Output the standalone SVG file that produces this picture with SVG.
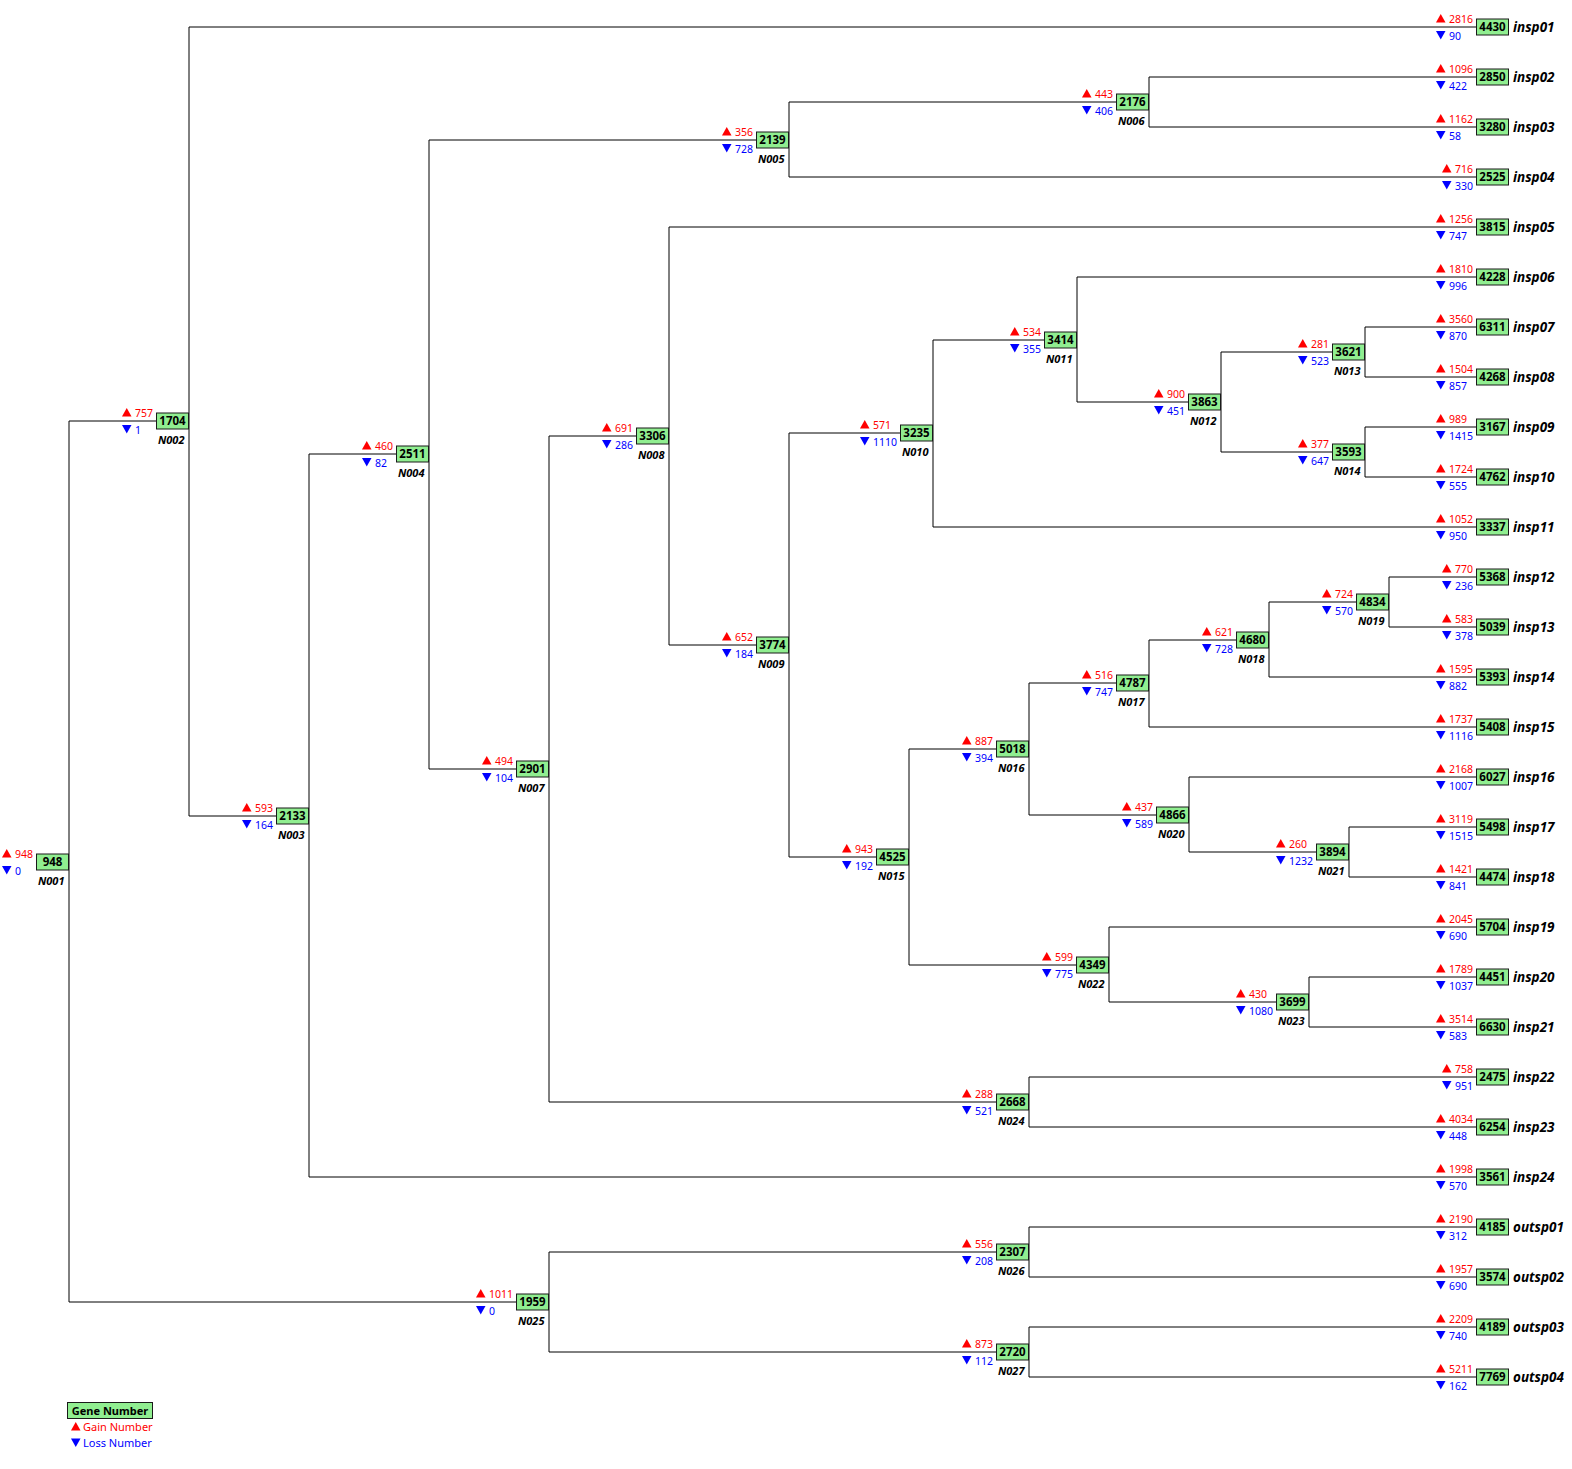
<svg xmlns="http://www.w3.org/2000/svg" xmlns:xlink="http://www.w3.org/1999/xlink" width="1572" height="1469" viewBox="0 0 1572 1469">
<style>
.ln{stroke:#000;stroke-width:1;fill:none}
.bx{fill:#90ee90;stroke:#1a1a1a;stroke-width:1}
text{font-family:"Noto Sans","Open Sans","DejaVu Sans",sans-serif}
.gn{font-size:11.5px;font-weight:bold;text-anchor:middle;fill:#000}
.g{font-size:10.5px;fill:#ff0000}
.l{font-size:10.5px;fill:#0000ff}
.nm{font-size:11px;font-weight:bold;font-style:italic;text-anchor:end;fill:#000}
.lf{font-size:13.5px;font-weight:bold;font-style:italic;fill:#000}
.lg{font-size:11px}
</style>
<defs>
<polygon id="up" points="0,0 9.5,0 4.75,-8.5" fill="#ff0000"/>
<polygon id="dn" points="0,-8.5 9.5,-8.5 4.75,0" fill="#0000ff"/>
</defs>
<rect width="1572" height="1469" fill="#fff"/>
<g id="tree" transform="translate(0,1)">
<g id="connectors" class="ln">
<path d="M69,420V1301M69,420H156M69,1301H516"/>
<path d="M189,26V815M189,26H1476M189,815H276"/>
<path d="M309,453V1176M309,453H396M309,1176H1476"/>
<path d="M429,139V768M429,139H756M429,768H516"/>
<path d="M789,101V176M789,101H1116M789,176H1476"/>
<path d="M1149,76V126M1149,76H1476M1149,126H1476"/>
<path d="M549,435V1101M549,435H636M549,1101H996"/>
<path d="M669,226V644M669,226H1476M669,644H756"/>
<path d="M789,432V856M789,432H900M789,856H876"/>
<path d="M933,339V526M933,339H1044M933,526H1476"/>
<path d="M1077,276V401M1077,276H1476M1077,401H1188"/>
<path d="M1221,351V451M1221,351H1332M1221,451H1332"/>
<path d="M1365,326V376M1365,326H1476M1365,376H1476"/>
<path d="M1365,426V476M1365,426H1476M1365,476H1476"/>
<path d="M909,748V964M909,748H996M909,964H1076"/>
<path d="M1029,682V814M1029,682H1116M1029,814H1156"/>
<path d="M1149,639V726M1149,639H1236M1149,726H1476"/>
<path d="M1269,601V676M1269,601H1356M1269,676H1476"/>
<path d="M1389,576V626M1389,576H1476M1389,626H1476"/>
<path d="M1189,776V851M1189,776H1476M1189,851H1316"/>
<path d="M1349,826V876M1349,826H1476M1349,876H1476"/>
<path d="M1109,926V1001M1109,926H1476M1109,1001H1276"/>
<path d="M1309,976V1026M1309,976H1476M1309,1026H1476"/>
<path d="M1029,1076V1126M1029,1076H1476M1029,1126H1476"/>
<path d="M549,1251V1351M549,1251H996M549,1351H996"/>
<path d="M1029,1226V1276M1029,1226H1476M1029,1276H1476"/>
<path d="M1029,1326V1376M1029,1326H1476M1029,1376H1476"/>
</g>
<g id="N001" transform="translate(69,861)"><rect class="bx" x="-32.5" y="-8" width="32" height="16"/><text class="gn" x="-16.5" y="4">948</text><text class="nm" x="-4.5" y="22.5">N001</text><use href="#up" x="-67" y="-4.5"/><text class="g" x="-54" y="-4.5">948</text><use href="#dn" x="-67" y="12.5"/><text class="l" x="-54" y="12.5">0</text></g>
<g id="N002" transform="translate(189,420)"><rect class="bx" x="-32.5" y="-8" width="32" height="16"/><text class="gn" x="-16.5" y="4">1704</text><text class="nm" x="-4.5" y="22.5">N002</text><use href="#up" x="-67" y="-4.5"/><text class="g" x="-54" y="-4.5">757</text><use href="#dn" x="-67" y="12.5"/><text class="l" x="-54" y="12.5">1</text></g>
<g id="N003" transform="translate(309,815)"><rect class="bx" x="-32.5" y="-8" width="32" height="16"/><text class="gn" x="-16.5" y="4">2133</text><text class="nm" x="-4.5" y="22.5">N003</text><use href="#up" x="-67" y="-4.5"/><text class="g" x="-54" y="-4.5">593</text><use href="#dn" x="-67" y="12.5"/><text class="l" x="-54" y="12.5">164</text></g>
<g id="N004" transform="translate(429,453)"><rect class="bx" x="-32.5" y="-8" width="32" height="16"/><text class="gn" x="-16.5" y="4">2511</text><text class="nm" x="-4.5" y="22.5">N004</text><use href="#up" x="-67" y="-4.5"/><text class="g" x="-54" y="-4.5">460</text><use href="#dn" x="-67" y="12.5"/><text class="l" x="-54" y="12.5">82</text></g>
<g id="N005" transform="translate(789,139)"><rect class="bx" x="-32.5" y="-8" width="32" height="16"/><text class="gn" x="-16.5" y="4">2139</text><text class="nm" x="-4.5" y="22.5">N005</text><use href="#up" x="-67" y="-4.5"/><text class="g" x="-54" y="-4.5">356</text><use href="#dn" x="-67" y="12.5"/><text class="l" x="-54" y="12.5">728</text></g>
<g id="N006" transform="translate(1149,101)"><rect class="bx" x="-32.5" y="-8" width="32" height="16"/><text class="gn" x="-16.5" y="4">2176</text><text class="nm" x="-4.5" y="22.5">N006</text><use href="#up" x="-67" y="-4.5"/><text class="g" x="-54" y="-4.5">443</text><use href="#dn" x="-67" y="12.5"/><text class="l" x="-54" y="12.5">406</text></g>
<g id="N007" transform="translate(549,768)"><rect class="bx" x="-32.5" y="-8" width="32" height="16"/><text class="gn" x="-16.5" y="4">2901</text><text class="nm" x="-4.5" y="22.5">N007</text><use href="#up" x="-67" y="-4.5"/><text class="g" x="-54" y="-4.5">494</text><use href="#dn" x="-67" y="12.5"/><text class="l" x="-54" y="12.5">104</text></g>
<g id="N008" transform="translate(669,435)"><rect class="bx" x="-32.5" y="-8" width="32" height="16"/><text class="gn" x="-16.5" y="4">3306</text><text class="nm" x="-4.5" y="22.5">N008</text><use href="#up" x="-67" y="-4.5"/><text class="g" x="-54" y="-4.5">691</text><use href="#dn" x="-67" y="12.5"/><text class="l" x="-54" y="12.5">286</text></g>
<g id="N009" transform="translate(789,644)"><rect class="bx" x="-32.5" y="-8" width="32" height="16"/><text class="gn" x="-16.5" y="4">3774</text><text class="nm" x="-4.5" y="22.5">N009</text><use href="#up" x="-67" y="-4.5"/><text class="g" x="-54" y="-4.5">652</text><use href="#dn" x="-67" y="12.5"/><text class="l" x="-54" y="12.5">184</text></g>
<g id="N010" transform="translate(933,432)"><rect class="bx" x="-32.5" y="-8" width="32" height="16"/><text class="gn" x="-16.5" y="4">3235</text><text class="nm" x="-4.5" y="22.5">N010</text><use href="#up" x="-73" y="-4.5"/><text class="g" x="-60" y="-4.5">571</text><use href="#dn" x="-73" y="12.5"/><text class="l" x="-60" y="12.5">1110</text></g>
<g id="N011" transform="translate(1077,339)"><rect class="bx" x="-32.5" y="-8" width="32" height="16"/><text class="gn" x="-16.5" y="4">3414</text><text class="nm" x="-4.5" y="22.5">N011</text><use href="#up" x="-67" y="-4.5"/><text class="g" x="-54" y="-4.5">534</text><use href="#dn" x="-67" y="12.5"/><text class="l" x="-54" y="12.5">355</text></g>
<g id="N012" transform="translate(1221,401)"><rect class="bx" x="-32.5" y="-8" width="32" height="16"/><text class="gn" x="-16.5" y="4">3863</text><text class="nm" x="-4.5" y="22.5">N012</text><use href="#up" x="-67" y="-4.5"/><text class="g" x="-54" y="-4.5">900</text><use href="#dn" x="-67" y="12.5"/><text class="l" x="-54" y="12.5">451</text></g>
<g id="N013" transform="translate(1365,351)"><rect class="bx" x="-32.5" y="-8" width="32" height="16"/><text class="gn" x="-16.5" y="4">3621</text><text class="nm" x="-4.5" y="22.5">N013</text><use href="#up" x="-67" y="-4.5"/><text class="g" x="-54" y="-4.5">281</text><use href="#dn" x="-67" y="12.5"/><text class="l" x="-54" y="12.5">523</text></g>
<g id="N014" transform="translate(1365,451)"><rect class="bx" x="-32.5" y="-8" width="32" height="16"/><text class="gn" x="-16.5" y="4">3593</text><text class="nm" x="-4.5" y="22.5">N014</text><use href="#up" x="-67" y="-4.5"/><text class="g" x="-54" y="-4.5">377</text><use href="#dn" x="-67" y="12.5"/><text class="l" x="-54" y="12.5">647</text></g>
<g id="N015" transform="translate(909,856)"><rect class="bx" x="-32.5" y="-8" width="32" height="16"/><text class="gn" x="-16.5" y="4">4525</text><text class="nm" x="-4.5" y="22.5">N015</text><use href="#up" x="-67" y="-4.5"/><text class="g" x="-54" y="-4.5">943</text><use href="#dn" x="-67" y="12.5"/><text class="l" x="-54" y="12.5">192</text></g>
<g id="N016" transform="translate(1029,748)"><rect class="bx" x="-32.5" y="-8" width="32" height="16"/><text class="gn" x="-16.5" y="4">5018</text><text class="nm" x="-4.5" y="22.5">N016</text><use href="#up" x="-67" y="-4.5"/><text class="g" x="-54" y="-4.5">887</text><use href="#dn" x="-67" y="12.5"/><text class="l" x="-54" y="12.5">394</text></g>
<g id="N017" transform="translate(1149,682)"><rect class="bx" x="-32.5" y="-8" width="32" height="16"/><text class="gn" x="-16.5" y="4">4787</text><text class="nm" x="-4.5" y="22.5">N017</text><use href="#up" x="-67" y="-4.5"/><text class="g" x="-54" y="-4.5">516</text><use href="#dn" x="-67" y="12.5"/><text class="l" x="-54" y="12.5">747</text></g>
<g id="N018" transform="translate(1269,639)"><rect class="bx" x="-32.5" y="-8" width="32" height="16"/><text class="gn" x="-16.5" y="4">4680</text><text class="nm" x="-4.5" y="22.5">N018</text><use href="#up" x="-67" y="-4.5"/><text class="g" x="-54" y="-4.5">621</text><use href="#dn" x="-67" y="12.5"/><text class="l" x="-54" y="12.5">728</text></g>
<g id="N019" transform="translate(1389,601)"><rect class="bx" x="-32.5" y="-8" width="32" height="16"/><text class="gn" x="-16.5" y="4">4834</text><text class="nm" x="-4.5" y="22.5">N019</text><use href="#up" x="-67" y="-4.5"/><text class="g" x="-54" y="-4.5">724</text><use href="#dn" x="-67" y="12.5"/><text class="l" x="-54" y="12.5">570</text></g>
<g id="N020" transform="translate(1189,814)"><rect class="bx" x="-32.5" y="-8" width="32" height="16"/><text class="gn" x="-16.5" y="4">4866</text><text class="nm" x="-4.5" y="22.5">N020</text><use href="#up" x="-67" y="-4.5"/><text class="g" x="-54" y="-4.5">437</text><use href="#dn" x="-67" y="12.5"/><text class="l" x="-54" y="12.5">589</text></g>
<g id="N021" transform="translate(1349,851)"><rect class="bx" x="-32.5" y="-8" width="32" height="16"/><text class="gn" x="-16.5" y="4">3894</text><text class="nm" x="-4.5" y="22.5">N021</text><use href="#up" x="-73" y="-4.5"/><text class="g" x="-60" y="-4.5">260</text><use href="#dn" x="-73" y="12.5"/><text class="l" x="-60" y="12.5">1232</text></g>
<g id="N022" transform="translate(1109,964)"><rect class="bx" x="-32.5" y="-8" width="32" height="16"/><text class="gn" x="-16.5" y="4">4349</text><text class="nm" x="-4.5" y="22.5">N022</text><use href="#up" x="-67" y="-4.5"/><text class="g" x="-54" y="-4.5">599</text><use href="#dn" x="-67" y="12.5"/><text class="l" x="-54" y="12.5">775</text></g>
<g id="N023" transform="translate(1309,1001)"><rect class="bx" x="-32.5" y="-8" width="32" height="16"/><text class="gn" x="-16.5" y="4">3699</text><text class="nm" x="-4.5" y="22.5">N023</text><use href="#up" x="-73" y="-4.5"/><text class="g" x="-60" y="-4.5">430</text><use href="#dn" x="-73" y="12.5"/><text class="l" x="-60" y="12.5">1080</text></g>
<g id="N024" transform="translate(1029,1101)"><rect class="bx" x="-32.5" y="-8" width="32" height="16"/><text class="gn" x="-16.5" y="4">2668</text><text class="nm" x="-4.5" y="22.5">N024</text><use href="#up" x="-67" y="-4.5"/><text class="g" x="-54" y="-4.5">288</text><use href="#dn" x="-67" y="12.5"/><text class="l" x="-54" y="12.5">521</text></g>
<g id="N025" transform="translate(549,1301)"><rect class="bx" x="-32.5" y="-8" width="32" height="16"/><text class="gn" x="-16.5" y="4">1959</text><text class="nm" x="-4.5" y="22.5">N025</text><use href="#up" x="-73" y="-4.5"/><text class="g" x="-60" y="-4.5">1011</text><use href="#dn" x="-73" y="12.5"/><text class="l" x="-60" y="12.5">0</text></g>
<g id="N026" transform="translate(1029,1251)"><rect class="bx" x="-32.5" y="-8" width="32" height="16"/><text class="gn" x="-16.5" y="4">2307</text><text class="nm" x="-4.5" y="22.5">N026</text><use href="#up" x="-67" y="-4.5"/><text class="g" x="-54" y="-4.5">556</text><use href="#dn" x="-67" y="12.5"/><text class="l" x="-54" y="12.5">208</text></g>
<g id="N027" transform="translate(1029,1351)"><rect class="bx" x="-32.5" y="-8" width="32" height="16"/><text class="gn" x="-16.5" y="4">2720</text><text class="nm" x="-4.5" y="22.5">N027</text><use href="#up" x="-67" y="-4.5"/><text class="g" x="-54" y="-4.5">873</text><use href="#dn" x="-67" y="12.5"/><text class="l" x="-54" y="12.5">112</text></g>
<g id="insp01" transform="translate(1509,26)"><rect class="bx" x="-32.5" y="-8" width="32" height="16"/><text class="gn" x="-16.5" y="4">4430</text><text class="lf" x="4" y="5">insp01</text><use href="#up" x="-73" y="-4.5"/><text class="g" x="-60" y="-4.5">2816</text><use href="#dn" x="-73" y="12.5"/><text class="l" x="-60" y="12.5">90</text></g>
<g id="insp02" transform="translate(1509,76)"><rect class="bx" x="-32.5" y="-8" width="32" height="16"/><text class="gn" x="-16.5" y="4">2850</text><text class="lf" x="4" y="5">insp02</text><use href="#up" x="-73" y="-4.5"/><text class="g" x="-60" y="-4.5">1096</text><use href="#dn" x="-73" y="12.5"/><text class="l" x="-60" y="12.5">422</text></g>
<g id="insp03" transform="translate(1509,126)"><rect class="bx" x="-32.5" y="-8" width="32" height="16"/><text class="gn" x="-16.5" y="4">3280</text><text class="lf" x="4" y="5">insp03</text><use href="#up" x="-73" y="-4.5"/><text class="g" x="-60" y="-4.5">1162</text><use href="#dn" x="-73" y="12.5"/><text class="l" x="-60" y="12.5">58</text></g>
<g id="insp04" transform="translate(1509,176)"><rect class="bx" x="-32.5" y="-8" width="32" height="16"/><text class="gn" x="-16.5" y="4">2525</text><text class="lf" x="4" y="5">insp04</text><use href="#up" x="-67" y="-4.5"/><text class="g" x="-54" y="-4.5">716</text><use href="#dn" x="-67" y="12.5"/><text class="l" x="-54" y="12.5">330</text></g>
<g id="insp05" transform="translate(1509,226)"><rect class="bx" x="-32.5" y="-8" width="32" height="16"/><text class="gn" x="-16.5" y="4">3815</text><text class="lf" x="4" y="5">insp05</text><use href="#up" x="-73" y="-4.5"/><text class="g" x="-60" y="-4.5">1256</text><use href="#dn" x="-73" y="12.5"/><text class="l" x="-60" y="12.5">747</text></g>
<g id="insp06" transform="translate(1509,276)"><rect class="bx" x="-32.5" y="-8" width="32" height="16"/><text class="gn" x="-16.5" y="4">4228</text><text class="lf" x="4" y="5">insp06</text><use href="#up" x="-73" y="-4.5"/><text class="g" x="-60" y="-4.5">1810</text><use href="#dn" x="-73" y="12.5"/><text class="l" x="-60" y="12.5">996</text></g>
<g id="insp07" transform="translate(1509,326)"><rect class="bx" x="-32.5" y="-8" width="32" height="16"/><text class="gn" x="-16.5" y="4">6311</text><text class="lf" x="4" y="5">insp07</text><use href="#up" x="-73" y="-4.5"/><text class="g" x="-60" y="-4.5">3560</text><use href="#dn" x="-73" y="12.5"/><text class="l" x="-60" y="12.5">870</text></g>
<g id="insp08" transform="translate(1509,376)"><rect class="bx" x="-32.5" y="-8" width="32" height="16"/><text class="gn" x="-16.5" y="4">4268</text><text class="lf" x="4" y="5">insp08</text><use href="#up" x="-73" y="-4.5"/><text class="g" x="-60" y="-4.5">1504</text><use href="#dn" x="-73" y="12.5"/><text class="l" x="-60" y="12.5">857</text></g>
<g id="insp09" transform="translate(1509,426)"><rect class="bx" x="-32.5" y="-8" width="32" height="16"/><text class="gn" x="-16.5" y="4">3167</text><text class="lf" x="4" y="5">insp09</text><use href="#up" x="-73" y="-4.5"/><text class="g" x="-60" y="-4.5">989</text><use href="#dn" x="-73" y="12.5"/><text class="l" x="-60" y="12.5">1415</text></g>
<g id="insp10" transform="translate(1509,476)"><rect class="bx" x="-32.5" y="-8" width="32" height="16"/><text class="gn" x="-16.5" y="4">4762</text><text class="lf" x="4" y="5">insp10</text><use href="#up" x="-73" y="-4.5"/><text class="g" x="-60" y="-4.5">1724</text><use href="#dn" x="-73" y="12.5"/><text class="l" x="-60" y="12.5">555</text></g>
<g id="insp11" transform="translate(1509,526)"><rect class="bx" x="-32.5" y="-8" width="32" height="16"/><text class="gn" x="-16.5" y="4">3337</text><text class="lf" x="4" y="5">insp11</text><use href="#up" x="-73" y="-4.5"/><text class="g" x="-60" y="-4.5">1052</text><use href="#dn" x="-73" y="12.5"/><text class="l" x="-60" y="12.5">950</text></g>
<g id="insp12" transform="translate(1509,576)"><rect class="bx" x="-32.5" y="-8" width="32" height="16"/><text class="gn" x="-16.5" y="4">5368</text><text class="lf" x="4" y="5">insp12</text><use href="#up" x="-67" y="-4.5"/><text class="g" x="-54" y="-4.5">770</text><use href="#dn" x="-67" y="12.5"/><text class="l" x="-54" y="12.5">236</text></g>
<g id="insp13" transform="translate(1509,626)"><rect class="bx" x="-32.5" y="-8" width="32" height="16"/><text class="gn" x="-16.5" y="4">5039</text><text class="lf" x="4" y="5">insp13</text><use href="#up" x="-67" y="-4.5"/><text class="g" x="-54" y="-4.5">583</text><use href="#dn" x="-67" y="12.5"/><text class="l" x="-54" y="12.5">378</text></g>
<g id="insp14" transform="translate(1509,676)"><rect class="bx" x="-32.5" y="-8" width="32" height="16"/><text class="gn" x="-16.5" y="4">5393</text><text class="lf" x="4" y="5">insp14</text><use href="#up" x="-73" y="-4.5"/><text class="g" x="-60" y="-4.5">1595</text><use href="#dn" x="-73" y="12.5"/><text class="l" x="-60" y="12.5">882</text></g>
<g id="insp15" transform="translate(1509,726)"><rect class="bx" x="-32.5" y="-8" width="32" height="16"/><text class="gn" x="-16.5" y="4">5408</text><text class="lf" x="4" y="5">insp15</text><use href="#up" x="-73" y="-4.5"/><text class="g" x="-60" y="-4.5">1737</text><use href="#dn" x="-73" y="12.5"/><text class="l" x="-60" y="12.5">1116</text></g>
<g id="insp16" transform="translate(1509,776)"><rect class="bx" x="-32.5" y="-8" width="32" height="16"/><text class="gn" x="-16.5" y="4">6027</text><text class="lf" x="4" y="5">insp16</text><use href="#up" x="-73" y="-4.5"/><text class="g" x="-60" y="-4.5">2168</text><use href="#dn" x="-73" y="12.5"/><text class="l" x="-60" y="12.5">1007</text></g>
<g id="insp17" transform="translate(1509,826)"><rect class="bx" x="-32.5" y="-8" width="32" height="16"/><text class="gn" x="-16.5" y="4">5498</text><text class="lf" x="4" y="5">insp17</text><use href="#up" x="-73" y="-4.5"/><text class="g" x="-60" y="-4.5">3119</text><use href="#dn" x="-73" y="12.5"/><text class="l" x="-60" y="12.5">1515</text></g>
<g id="insp18" transform="translate(1509,876)"><rect class="bx" x="-32.5" y="-8" width="32" height="16"/><text class="gn" x="-16.5" y="4">4474</text><text class="lf" x="4" y="5">insp18</text><use href="#up" x="-73" y="-4.5"/><text class="g" x="-60" y="-4.5">1421</text><use href="#dn" x="-73" y="12.5"/><text class="l" x="-60" y="12.5">841</text></g>
<g id="insp19" transform="translate(1509,926)"><rect class="bx" x="-32.5" y="-8" width="32" height="16"/><text class="gn" x="-16.5" y="4">5704</text><text class="lf" x="4" y="5">insp19</text><use href="#up" x="-73" y="-4.5"/><text class="g" x="-60" y="-4.5">2045</text><use href="#dn" x="-73" y="12.5"/><text class="l" x="-60" y="12.5">690</text></g>
<g id="insp20" transform="translate(1509,976)"><rect class="bx" x="-32.5" y="-8" width="32" height="16"/><text class="gn" x="-16.5" y="4">4451</text><text class="lf" x="4" y="5">insp20</text><use href="#up" x="-73" y="-4.5"/><text class="g" x="-60" y="-4.5">1789</text><use href="#dn" x="-73" y="12.5"/><text class="l" x="-60" y="12.5">1037</text></g>
<g id="insp21" transform="translate(1509,1026)"><rect class="bx" x="-32.5" y="-8" width="32" height="16"/><text class="gn" x="-16.5" y="4">6630</text><text class="lf" x="4" y="5">insp21</text><use href="#up" x="-73" y="-4.5"/><text class="g" x="-60" y="-4.5">3514</text><use href="#dn" x="-73" y="12.5"/><text class="l" x="-60" y="12.5">583</text></g>
<g id="insp22" transform="translate(1509,1076)"><rect class="bx" x="-32.5" y="-8" width="32" height="16"/><text class="gn" x="-16.5" y="4">2475</text><text class="lf" x="4" y="5">insp22</text><use href="#up" x="-67" y="-4.5"/><text class="g" x="-54" y="-4.5">758</text><use href="#dn" x="-67" y="12.5"/><text class="l" x="-54" y="12.5">951</text></g>
<g id="insp23" transform="translate(1509,1126)"><rect class="bx" x="-32.5" y="-8" width="32" height="16"/><text class="gn" x="-16.5" y="4">6254</text><text class="lf" x="4" y="5">insp23</text><use href="#up" x="-73" y="-4.5"/><text class="g" x="-60" y="-4.5">4034</text><use href="#dn" x="-73" y="12.5"/><text class="l" x="-60" y="12.5">448</text></g>
<g id="insp24" transform="translate(1509,1176)"><rect class="bx" x="-32.5" y="-8" width="32" height="16"/><text class="gn" x="-16.5" y="4">3561</text><text class="lf" x="4" y="5">insp24</text><use href="#up" x="-73" y="-4.5"/><text class="g" x="-60" y="-4.5">1998</text><use href="#dn" x="-73" y="12.5"/><text class="l" x="-60" y="12.5">570</text></g>
<g id="outsp01" transform="translate(1509,1226)"><rect class="bx" x="-32.5" y="-8" width="32" height="16"/><text class="gn" x="-16.5" y="4">4185</text><text class="lf" x="4" y="5">outsp01</text><use href="#up" x="-73" y="-4.5"/><text class="g" x="-60" y="-4.5">2190</text><use href="#dn" x="-73" y="12.5"/><text class="l" x="-60" y="12.5">312</text></g>
<g id="outsp02" transform="translate(1509,1276)"><rect class="bx" x="-32.5" y="-8" width="32" height="16"/><text class="gn" x="-16.5" y="4">3574</text><text class="lf" x="4" y="5">outsp02</text><use href="#up" x="-73" y="-4.5"/><text class="g" x="-60" y="-4.5">1957</text><use href="#dn" x="-73" y="12.5"/><text class="l" x="-60" y="12.5">690</text></g>
<g id="outsp03" transform="translate(1509,1326)"><rect class="bx" x="-32.5" y="-8" width="32" height="16"/><text class="gn" x="-16.5" y="4">4189</text><text class="lf" x="4" y="5">outsp03</text><use href="#up" x="-73" y="-4.5"/><text class="g" x="-60" y="-4.5">2209</text><use href="#dn" x="-73" y="12.5"/><text class="l" x="-60" y="12.5">740</text></g>
<g id="outsp04" transform="translate(1509,1376)"><rect class="bx" x="-32.5" y="-8" width="32" height="16"/><text class="gn" x="-16.5" y="4">7769</text><text class="lf" x="4" y="5">outsp04</text><use href="#up" x="-73" y="-4.5"/><text class="g" x="-60" y="-4.5">5211</text><use href="#dn" x="-73" y="12.5"/><text class="l" x="-60" y="12.5">162</text></g>
</g>
<g id="legend">
<rect class="bx" x="67.5" y="1402.5" width="85" height="16"/>
<text class="gn" x="110" y="1414.5" style="font-size:11px">Gene Number</text>
<use href="#up" x="71" y="1430.5"/>
<text class="g lg" x="83" y="1430.5">Gain Number</text>
<use href="#dn" x="71" y="1447"/>
<text class="l lg" x="83" y="1447">Loss Number</text>
</g>
</svg>
